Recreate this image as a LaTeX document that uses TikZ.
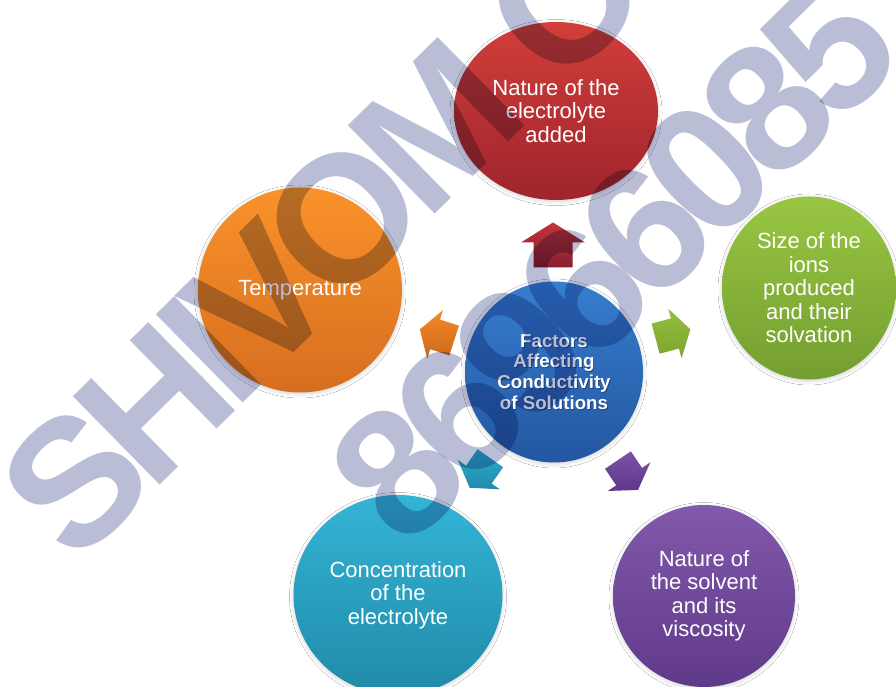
\documentclass[tikz,border=0pt]{standalone}
\usepackage{fontspec}
\setmainfont{Liberation Sans}
\newfontfamily\wmfont{Liberation Sans}[LetterSpace=-7.5]
\usetikzlibrary{shapes.geometric,shadows.blur}

% fills of the factor circles (top / bottom of each gradient)
\definecolor{redA}{RGB}{210,62,58}     \definecolor{redB}{RGB}{158,36,44}
\definecolor{orangeA}{RGB}{250,146,42} \definecolor{orangeB}{RGB}{214,110,32}
\definecolor{greenA}{RGB}{152,198,66}  \definecolor{greenB}{RGB}{116,158,48}
\definecolor{blueA}{RGB}{54,126,206}   \definecolor{blueB}{RGB}{36,86,160}
\definecolor{cyanA}{RGB}{52,180,214}   \definecolor{cyanB}{RGB}{32,138,168}
\definecolor{purpleA}{RGB}{130,88,170} \definecolor{purpleB}{RGB}{96,58,138}
% block arrows
\definecolor{redC}{RGB}{196,52,60}     \definecolor{redD}{RGB}{136,30,48}
\definecolor{orangeC}{RGB}{244,138,36} \definecolor{orangeD}{RGB}{204,104,30}
\definecolor{greenC}{RGB}{148,192,62}  \definecolor{greenD}{RGB}{124,164,48}
\definecolor{cyanC}{RGB}{46,172,206}   \definecolor{cyanD}{RGB}{34,138,172}
\definecolor{purpleC}{RGB}{122,82,166} \definecolor{purpleD}{RGB}{94,54,138}
% watermark ink
\definecolor{wmink}{RGB}{185,189,214}
\definecolor{hubshadow}{RGB}{20,45,90}

\tikzset{
  factor/.style={ellipse, inner sep=0pt, text=white, align=center,
    font=\fontsize{22}{23.5}\selectfont,
    blur shadow={shadow xshift=0pt, shadow yshift=-1.5pt,
                 shadow blur radius=4pt, shadow opacity=18}},
  hubtext/.style={align=center, inner sep=0pt,
    font=\fontsize{18.7}{20.7}\selectfont\bfseries},
  blockarrow/.pic={
    \path[pic actions] (-22.5,-19.5) -- (2.5,-19.5) -- (2.5,-32) -- (22.5,0)
      -- (2.5,32) -- (2.5,19.5) -- (-22.5,19.5) -- cycle;
  },
  wm/.style={text=wmink, inner sep=0pt, anchor=base west, rotate=44.5,
    font=\wmfont\fontsize{180}{180}\selectfont\bfseries},
}

\begin{document}
\begin{tikzpicture}[x=1pt,y=1pt]
  \useasboundingbox (0,0) rectangle (896,687);
  \fill[white] (0,0) rectangle (896,687);
  \clip (0,0) rectangle (896,687);

  % outer factors
  \node[factor, minimum width=204pt, minimum height=178pt,
        top color=redA, bottom color=redB] (electrolyte) at (556,576)
        {Nature of the\\electrolyte\\added};
  \node[factor, minimum width=204pt, minimum height=205pt,
        top color=orangeA, bottom color=orangeB] (temp) at (300,397)
        {Temperature};
  \node[factor, minimum width=174pt, minimum height=183pt,
        top color=greenA, bottom color=greenB] (ions) at (809,399)
        {Size of the\\ions\\produced\\and their\\solvation};
  \node[factor, minimum width=209pt, minimum height=200pt,
        top color=cyanA, bottom color=cyanB] (conc) at (398,92)
        {Concentration\\of the\\electrolyte};
  \node[factor, minimum width=182pt, minimum height=182pt,
        top color=purpleA, bottom color=purpleB] (solvent) at (704,91)
        {Nature of\\the solvent\\and its\\viscosity};

  % central hub
  \node[factor, minimum width=178pt, minimum height=181pt,
        top color=blueA, bottom color=blueB] (hub) at (554,315) {};
  \node[hubtext, text=hubshadow, opacity=0.6] at ([shift={(0.9,-0.9)}]hub.center)
        {Factors\\Affecting\\Conductivity\\of Solutions};
  \node[hubtext, text=white] (hublabel) at (hub.center)
        {Factors\\Affecting\\Conductivity\\of Solutions};

  % block arrows pointing from the hub to each factor
  \pic[rotate=90, top color=redC, bottom color=redD]
      at (553,442) {blockarrow};
  \pic[rotate=15, scale=0.8, top color=greenC, bottom color=greenD]
      at (673,353) {blockarrow};
  \pic[rotate=162, scale=0.8, top color=orangeC, bottom color=orangeD]
      at (437,352) {blockarrow};
  \pic[rotate=235, scale=0.8, top color=cyanC, bottom color=cyanD]
      at (480,214) {blockarrow};
  \pic[rotate=304, scale=0.8, top color=purpleC, bottom color=purpleD]
      at (628,212) {blockarrow};

  % watermark
  \begin{scope}[blend mode=multiply]
    \node[wm] (wmname) at (75,119) {SHIVOM C};
    \node[wm] (wmphone) at (405,135) {86966085};
  \end{scope}
\end{tikzpicture}
\end{document}
